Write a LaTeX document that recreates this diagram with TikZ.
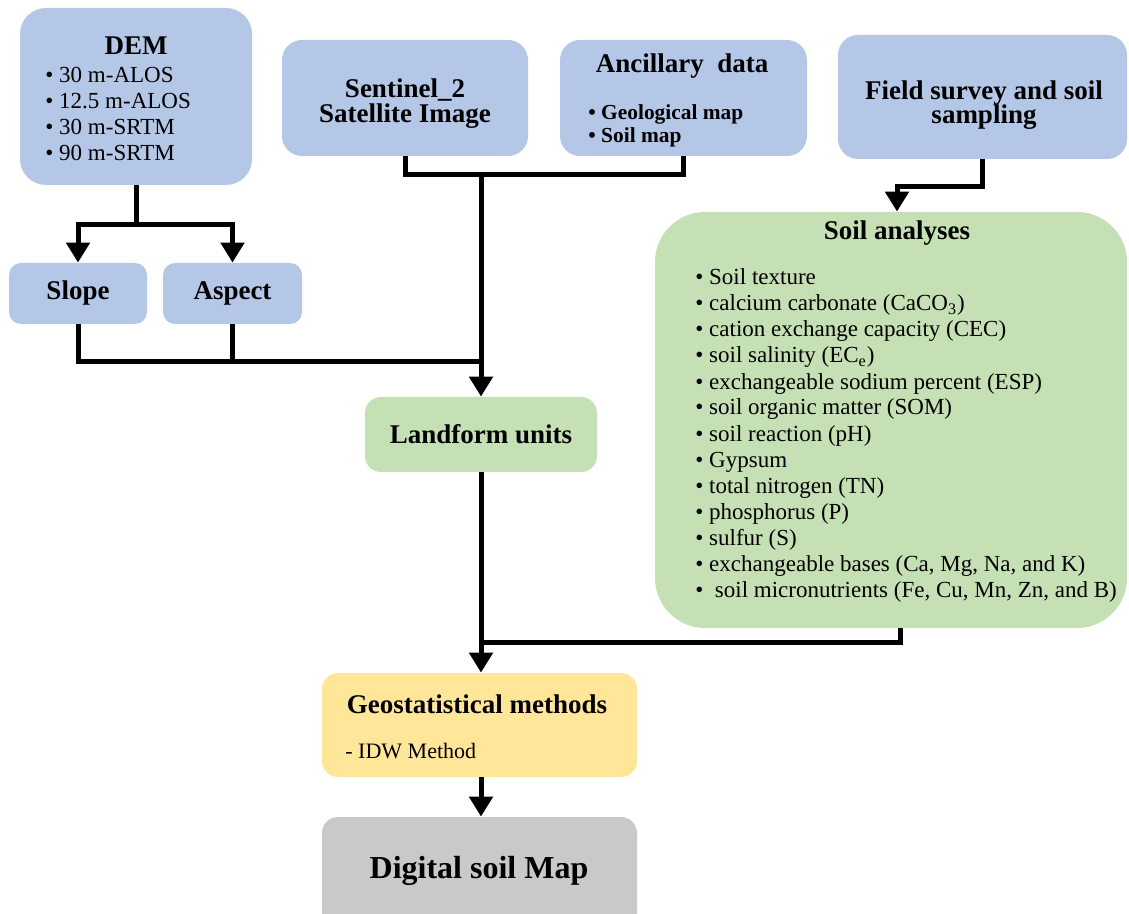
\documentclass[tikz,border=0pt]{standalone}
\usepackage{fontspec}
\setmainfont{Liberation Serif}
\usetikzlibrary{arrows.meta}
\definecolor{inblue}{HTML}{B4C7E7}
\definecolor{soilgreen}{HTML}{C5E0B4}
\definecolor{geoyellow}{HTML}{FFE699}
\definecolor{mapgray}{HTML}{C9C9C9}
\newcommand{\ttl}{\fontsize{13.5}{14}\selectfont\bfseries}
\newcommand{\lst}{\fontsize{11.5}{13}\selectfont}
\newcommand{\anc}{\fontsize{10.7}{11.5}\selectfont\bfseries}

\begin{document}
\begin{tikzpicture}[x=0.5pt,y=-0.5pt]
\tikzstyle{box}=[draw=none,inner sep=0pt,align=center,font=\ttl]
\tikzstyle{blue box}=[box,fill=inblue]
\tikzstyle{green box}=[box,fill=soilgreen]
\tikzstyle{txt}=[inner sep=0pt,font=\ttl,anchor=base]
\tikzstyle{line}=[line width=2.5pt]
\tikzstyle{arrow}=[line,-{Triangle[width=11.5pt,length=10pt]}]
\useasboundingbox (0,0) rectangle (1129,914);

% input data
\node[blue box,rounded corners=13pt,minimum width=116pt,minimum height=88.5pt] (dem) at (136,96.5) {};
\node[txt] (demtitle) at (136,55) {DEM};
\foreach [count=\i] \res in {30 m-ALOS,12.5 m-ALOS,30 m-SRTM,90 m-SRTM}
  \node[inner sep=0pt,anchor=base west,font=\lst] (dem\i) at (45,{57+26*\i}) {\textbullet\ \res};

\node[blue box,rounded corners=10pt,minimum width=123pt,minimum height=58pt] (sentinel) at (405,98) {};
\node[txt] (sent1) at (405,98) {Sentinel\_2};
\node[txt] (sent2) at (405,123) {Satellite Image};

\node[blue box,rounded corners=10pt,minimum width=123.5pt,minimum height=58pt] (ancillary) at (683.5,98) {};
\node[txt] (anctitle) at (682,73) {Ancillary\ \ data};
\node[inner sep=0pt,anchor=base west,font=\anc] (anc1) at (588,120) {\textbullet\ Geological map};
\node[inner sep=0pt,anchor=base west,font=\anc] (anc2) at (588,143) {\textbullet\ Soil map};

\node[blue box,rounded corners=10pt,minimum width=144.5pt,minimum height=62pt] (field) at (982.5,97) {};
\node[txt] (field1) at (984,100) {Field survey and soil};
\node[txt] (field2) at (984,124) {sampling};

\node[blue box,rounded corners=6pt,minimum width=69pt,minimum height=30.5pt] (slope) at (78,293.5) {Slope};
\node[blue box,rounded corners=6pt,minimum width=69.5pt,minimum height=30.5pt] (aspect) at (232.5,293.5) {Aspect};

\node[green box,rounded corners=8pt,minimum width=116pt,minimum height=37.5pt] (land) at (481,434.5) {Landform units};

% soil analyses
\node[green box,rounded corners=25pt,minimum width=236pt,minimum height=208pt] (soil) at (891,420) {};
\node[txt] (soiltitle) at (897,240) {Soil analyses};
\foreach [count=\i] \entry in {Soil texture,calcium carbonate (CaCO\textsubscript{3}),
    cation exchange capacity (CEC),soil salinity (EC\textsubscript{e}),
    exchangeable sodium percent (ESP),soil organic matter (SOM),soil reaction (pH),
    Gypsum,total nitrogen (TN),phosphorus (P),sulfur (S),
    {exchangeable bases (Ca, Mg, Na, and K)},{\ soil micronutrients (Fe, Cu, Mn, Zn, and B)}}
  \node[inner sep=0pt,anchor=base west,font=\lst] (sa\i) at (695,{259+26*\i}) {\textbullet\ \entry};

% outputs
\node[box,fill=geoyellow,rounded corners=8pt,minimum width=157.5pt,minimum height=52pt] (geo) at (479.5,725) {};
\node[txt] (geotitle) at (477,713) {Geostatistical methods};
\node[inner sep=0pt,anchor=base west,font=\fontsize{11}{13}\selectfont] (idw) at (345,758) {- IDW Method};

\node[box,fill=mapgray,rounded corners=8pt,minimum width=157.5pt,minimum height=59pt] (digital) at (479.5,876) {};
\node[txt,font=\fontsize{16}{18}\selectfont\bfseries] (digtext) at (479,878) {Digital soil Map};

% connectors
\coordinate (demsplit) at (136,225);
\draw[line] (dem.south) -- (demsplit);
\draw[arrow] (demsplit) -| (slope.north);
\draw[arrow] (demsplit) -| (aspect.north);

\coordinate (landjoin) at (481,362);
\draw[line] (slope.south) |- (landjoin);
\draw[line] (aspect.south) -- (aspect.south |- landjoin);

\coordinate (topjoin) at (481,175);
\draw[line] (sentinel.south) |- (ancillary.south |- topjoin) -- (ancillary.south);
\draw[arrow] (topjoin) -- (land.north);

\coordinate (fieldturn) at (897,187);
\draw[arrow] (field.south) |- (fieldturn) -- (soil.north -| fieldturn);

\coordinate (geojoin) at (481,642);
\draw[arrow] (land.south) -- (land.south |- geo.north);
\draw[line] ([xshift=4.5pt]soil.south) |- (geojoin);
\draw[arrow] (geo.south -| land.south) -- (land.south |- digital.north);
\end{tikzpicture}
\end{document}
